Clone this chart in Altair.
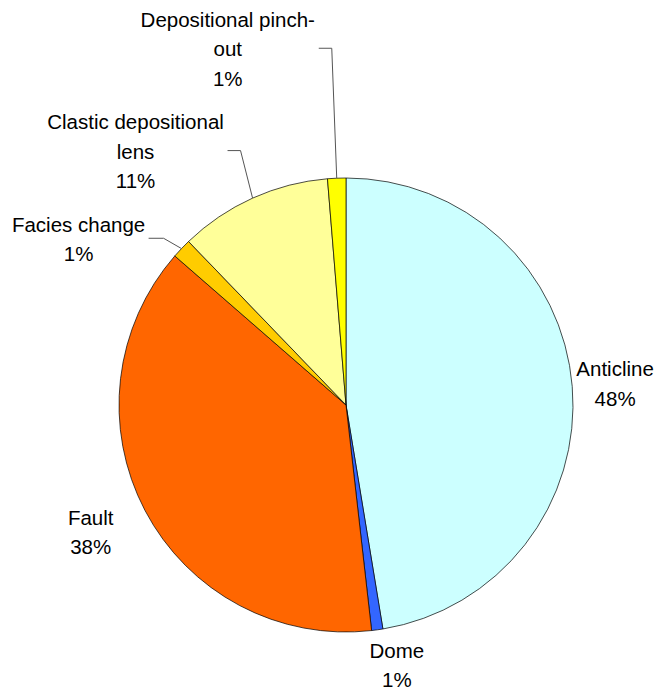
import math
import altair as alt
import pandas as pd

# ---- data ----
categories = ["Anticline", "Dome", "Fault", "Facies change",
              "Clastic depositional lens", "Depositional pinch-out"]
shares = [47.4, 0.8, 38.2, 1.4, 10.9, 1.3]
label_texts = ["Anticline\n48%", "Dome\n1%", "Fault\n38%", "Facies change\n1%",
               "Clastic depositional\nlens\n11%", "Depositional pinch-\nout\n1%"]
colors = ["#CCFFFF", "#3366FF", "#FF6600", "#FFCC00", "#FFFF99", "#FFFF00"]

# ---- layout (pixels, chart coordinates) ----
CX, CY, R = 338, 397, 227
LH = 29.5
TEXT_SHIFT = 2
label_layout = {  # radius, dx, dy  (offsets of the label block centre)
    "Anticline": (270, 0, 0),
    "Dome": (267, 14, -5),
    "Fault": (285, -3, -6),
    "Facies change": (300, -50, 40),
    "Clastic depositional lens": (300, -87, 19),
    "Depositional pinch-out": (300, -106, -57),
}
leader_layout = {  # horizontal start / elbow offsets from label centre
    "Facies change": (70, 85),
    "Clastic depositional lens": (92, 105),
    "Depositional pinch-out": (91, 104),
}

total = sum(shares)
rows = []
cum = 0.0
for i, (c, s, t) in enumerate(zip(categories, shares, label_texts)):
    mid = cum + s / 2
    cum += s
    rows.append({"category": c, "share": s, "label": t, "idx": i, "mid": mid / total * 100})
df = pd.DataFrame(rows)

# leader lines derived from slice mid-angles
line_rows = []
for r in rows:
    c = r["category"]
    if c not in leader_layout:
        continue
    a = r["mid"] / 100 * 2 * math.pi
    rad, dx, dy = label_layout[c]
    lx = CX + rad * math.sin(a) + dx
    ly = CY - rad * math.cos(a) + dy
    h0, h1 = leader_layout[c]
    ex = CX + R * math.sin(a)
    ey = CY - R * math.cos(a)
    line_rows += [
        {"category": c, "pt": 0, "px": lx + h0, "py": ly},
        {"category": c, "pt": 1, "px": lx + h1, "py": ly},
        {"category": c, "pt": 2, "px": ex, "py": ey},
    ]
lines_df = pd.DataFrame(line_rows)

base = alt.Chart(df)

pie = base.mark_arc(radius=R, x=CX, y=CY, stroke="black", strokeWidth=0.7).encode(
    theta=alt.Theta("share:Q", stack=True),
    color=alt.Color("category:N", scale=alt.Scale(domain=categories, range=colors), legend=None),
    order=alt.Order("idx:Q"),
)

leaders = alt.Chart(lines_df).mark_line(color="#555555", strokeWidth=1).encode(
    x=alt.X("px:Q", scale=None, axis=None),
    y=alt.Y("py:Q", scale=None, axis=None),
    detail="category:N",
    order=alt.Order("pt:Q"),
)

text_layers = []
for c, t in zip(categories, label_texts):
    rad, dx, dy = label_layout[c]
    n_lines = t.count("\n") + 1
    text_layers.append(
        base.transform_filter(alt.datum.category == c).mark_text(
            x=CX, y=CY, dx=dx, dy=dy - (n_lines - 1) * LH / 2 + TEXT_SHIFT, lineBreak="\n",
            align="center", baseline="middle",
            font="Liberation Sans", fontSize=20.5, lineHeight=LH, color="black",
        ).encode(
            theta=alt.Theta("mid:Q", scale=alt.Scale(domain=[0, 100], range=[0, 2 * math.pi])),
            radius=alt.value(rad),
            text="label:N",
        )
    )

chart = alt.layer(pie, leaders, *text_layers).properties(
    width=647, height=681, autosize="none", padding=0
).configure_view(stroke=None)

chart.save("out.html", embed_options={"renderer": "svg", "actions": False})
